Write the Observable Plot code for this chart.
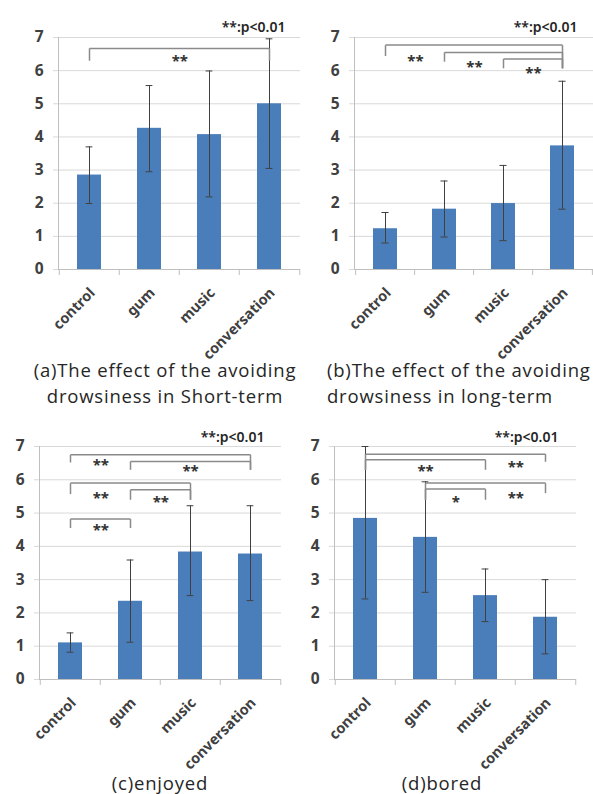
<!DOCTYPE html>
<html><head><meta charset="utf-8">
<script src="https://cdn.jsdelivr.net/npm/d3@7"></script>
<script src="https://cdn.jsdelivr.net/npm/@observablehq/plot@0.6"></script>
<style>
body{margin:0;background:#fff;}
#root{position:relative;width:593px;height:794px;overflow:hidden;font-family:Lato,"Open Sans",sans-serif;background:#fff;}
.panel{position:absolute;}
.title{position:absolute;font-size:18.5px;letter-spacing:0.8px;line-height:20px;height:20px;color:#262626;white-space:nowrap;font-family:"Open Sans",sans-serif;}
</style></head><body><div id="root"></div>
<script>
const categories = ["control", "gum", "music", "conversation"];
const yTicks = [0, 1, 2, 3, 4, 5, 6, 7];
const noteText = "**:p<0.01";

// (a) short-term
const meanA = [2.85, 4.26, 4.07, 5.00];
const loA   = [1.99, 2.95, 2.19, 3.05];
const hiA   = [3.70, 5.55, 5.99, 6.96];
const bracketsA = [
  {from: "control", to: "conversation", level: 6.67, endFrom: 6.30, endTo: 6.30}
];
const labelsA = [{slot: 1.5, y: 6.42, text: "**"}];

// (b) long-term
const meanB = [1.23, 1.82, 1.99, 3.73];
const loB   = [0.80, 0.98, 0.87, 1.82];
const hiB   = [1.72, 2.67, 3.14, 5.68];
const bracketsB = [
  {from: "control", to: "conversation", level: 6.77, endFrom: 6.44, endTo: 6.07},
  {from: "gum", to: "conversation", level: 6.55, endFrom: 6.27, endTo: 6.07},
  {from: "music", to: "conversation", level: 6.35, endFrom: 6.07, endTo: 6.07}
];
const labelsB = [
  {slot: 0.5, y: 6.42, text: "**"},
  {slot: 1.5, y: 6.24, text: "**"},
  {slot: 2.5, y: 6.05, text: "**"}
];

// (c) enjoyed
const meanC = [1.10, 2.35, 3.83, 3.77];
const loC   = [0.82, 1.12, 2.52, 2.37];
const hiC   = [1.40, 3.59, 5.22, 5.22];
const bracketsC = [
  {from: "control", to: "conversation", level: 6.75, endFrom: 6.52, endTo: 6.30},
  {from: "gum", to: "conversation", level: 6.55, endFrom: 6.30, endTo: 6.30},
  {from: "control", to: "music", level: 5.90, endFrom: 5.57, endTo: 5.40},
  {from: "gum", to: "music", level: 5.70, endFrom: 5.40, endTo: 5.40},
  {from: "control", to: "gum", level: 4.82, endFrom: 4.55, endTo: 4.55}
];
const labelsC = [
  {slot: 0.5, y: 6.55, text: "**"},
  {slot: 2, y: 6.37, text: "**"},
  {slot: 0.5, y: 5.57, text: "**"},
  {slot: 1.5, y: 5.45, text: "**"},
  {slot: 0.5, y: 4.62, text: "**"}
];

// (d) bored
const meanD = [4.84, 4.27, 2.52, 1.87];
const loD   = [2.42, 2.62, 1.74, 0.77];
const hiD   = [7.00, 5.94, 3.32, 3.00];
const bracketsD = [
  {from: "control", to: "conversation", level: 6.77, endFrom: 6.30, endTo: 6.54},
  {from: "control", to: "music", level: 6.60, endFrom: 6.30, endTo: 6.30},
  {from: "gum", to: "conversation", level: 5.90, endFrom: 5.40, endTo: 5.60},
  {from: "gum", to: "music", level: 5.72, endFrom: 5.40, endTo: 5.40}
];
const labelsD = [
  {slot: 2.5, y: 6.49, text: "**"},
  {slot: 1, y: 6.37, text: "**"},
  {slot: 1.5, y: 5.45, text: "*"},
  {slot: 2.5, y: 5.57, text: "**"}
];

const titles = [
  {text: "(a)The effect of the avoiding", left: 20, width: 290, align: "center", top: 360},
  {text: "drowsiness in Short-term", left: 20, width: 290, align: "center", top: 386},
  {text: "(b)The effect of the avoiding", left: 327, width: 266, align: "left", top: 360},
  {text: "drowsiness in long-term", left: 327, width: 266, align: "left", top: 386},
  {text: "(c)enjoyed", left: 60, width: 200, align: "center", top: 773},
  {text: "(d)bored", left: 342, width: 200, align: "center", top: 773}
];

const BAR = "#4a7ebb";
const GRID = "#d9d9d9";
const AXIS = "#bfbfbf";

function makePanel(cfg) {
  const {mean, lo, hi, brackets, labels, left, top, width, height, marginLeft, marginTop, marginBottom, noteDx, noteDy} = cfg;
  const rows = categories.map((c, i) => ({cat: c, mean: mean[i], lo: lo[i], hi: hi[i]}));
  const step = (width - marginLeft) / categories.length;
  const capInset = (step * 0.4 - 7) / 2;
  const intLabels = labels.filter(d => Number.isInteger(d.slot));
  const halfLabels = labels.filter(d => !Number.isInteger(d.slot));
  const plot = Plot.plot({
    width, height, marginLeft, marginRight: 0, marginTop, marginBottom,
    style: {color: "#404040", background: "transparent", overflow: "visible"},
    x: {domain: categories, paddingInner: 0.6, paddingOuter: 0.3, axis: null},
    y: {domain: [0, 7], axis: null},
    marks: [
      Plot.gridY(yTicks, {stroke: GRID, strokeOpacity: 1}),
      Plot.axisY(yTicks, {tickSize: 5, stroke: GRID, strokeOpacity: 1, tickPadding: 10, fontSize: 15.5, fontWeight: "bold", label: null}),
      Plot.frame({anchor: "left", stroke: AXIS}),
      Plot.ruleY([0], {stroke: AXIS}),
      Plot.ruleX(categories, {x: d => d, y1: 0, y2: -0.18, dx: -step / 2, stroke: AXIS}),
      Plot.ruleX(categories.slice(-1), {x: d => d, y1: 0, y2: -0.18, dx: step / 2, stroke: AXIS}),
      Plot.barY(rows, {x: "cat", y: "mean", fill: BAR}),
      Plot.ruleX(rows, {x: "cat", y1: "lo", y2: "hi", stroke: "#404040", strokeWidth: 1}),
      Plot.tickY(rows, {x: "cat", y: "lo", stroke: "#404040", insetLeft: capInset, insetRight: capInset}),
      Plot.tickY(rows, {x: "cat", y: "hi", stroke: "#404040", insetLeft: capInset, insetRight: capInset}),
      Plot.link(brackets, {x1: "from", x2: "to", y1: "level", y2: "level", stroke: "#8a8a8a", strokeWidth: 1.5}),
      Plot.link(brackets, {x1: "from", x2: "from", y1: "level", y2: "endFrom", stroke: "#8a8a8a", strokeWidth: 1.5}),
      Plot.link(brackets, {x1: "to", x2: "to", y1: "level", y2: "endTo", stroke: "#8a8a8a", strokeWidth: 1.5}),
      Plot.text(intLabels, {x: d => categories[Math.floor(d.slot)], y: "y", text: "text", fontSize: 15, fontWeight: "bold", dy: 4, fill: "#333"}),
      Plot.text(halfLabels, {x: d => categories[Math.floor(d.slot)], y: "y", text: "text", fontSize: 15, fontWeight: "bold", dy: 4, dx: step / 2, fill: "#333"}),
      Plot.text([noteText], {text: d => d, frameAnchor: "top-right", textAnchor: "end", dx: noteDx, dy: noteDy, fontSize: 14, fontWeight: 600, fill: "#262626"}),
      Plot.text(categories, {x: d => d, y: 0, text: d => d, rotate: -45, textAnchor: "end", dx: 3, dy: 21, fontSize: 14.5, fontWeight: "bold", fill: "#404040"})
    ]
  });
  const div = document.createElement("div");
  div.className = "panel";
  div.style.left = left + "px";
  div.style.top = top + "px";
  div.appendChild(plot);
  document.getElementById("root").appendChild(div);
}

makePanel({mean: meanA, lo: loA, hi: hiA, brackets: bracketsA, labels: labelsA, left: 0, top: 0, width: 300, height: 360, marginLeft: 58, marginTop: 37, marginBottom: 91, noteDx: -15, noteDy: -15});
makePanel({mean: meanB, lo: loB, hi: hiB, brackets: bracketsB, labels: labelsB, left: 295, top: 0, width: 298, height: 360, marginLeft: 59, marginTop: 37, marginBottom: 91, noteDx: -16, noteDy: -15});
makePanel({mean: meanC, lo: loC, hi: hiC, brackets: bracketsC, labels: labelsC, left: 0, top: 410, width: 281, height: 362, marginLeft: 39, marginTop: 36, marginBottom: 93, noteDx: -17, noteDy: -14});
makePanel({mean: meanD, lo: loD, hi: hiD, brackets: bracketsD, labels: labelsD, left: 295, top: 410, width: 281, height: 362, marginLeft: 39, marginTop: 36, marginBottom: 93, noteDx: -18, noteDy: -14});

for (const t of titles) {
  const d = document.createElement("div");
  d.className = "title";
  d.style.left = t.left + "px";
  d.style.top = t.top + "px";
  d.style.width = t.width + "px";
  d.style.textAlign = t.align;
  d.textContent = t.text;
  document.getElementById("root").appendChild(d);
}
</script>
</body></html>
